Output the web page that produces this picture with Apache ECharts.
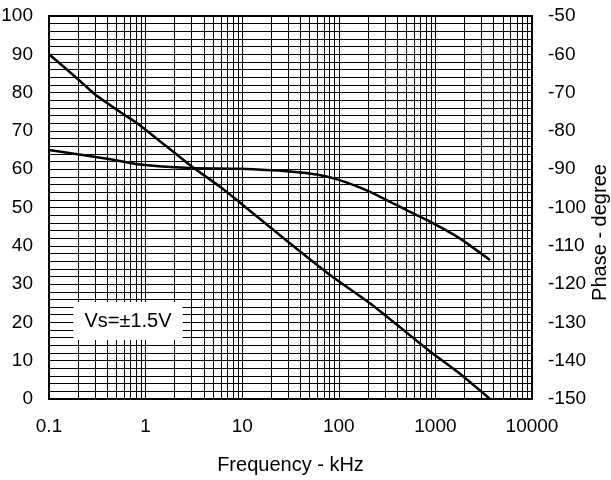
<!DOCTYPE html>
<html>
<head>
<meta charset="utf-8">
<script src="https://cdn.jsdelivr.net/npm/echarts@6/dist/echarts.min.js"></script>
<style>
  html, body { margin: 0; padding: 0; background: #fff; }
  #chart { width: 611px; height: 480px; }
</style>
</head>
<body>
<div id="chart"></div>
<script>
// gain (left axis, dB) vs frequency (kHz)
const gainFreq = [0.1, 0.2, 0.3, 0.54, 0.87, 2.87, 5.9, 10, 30, 81, 210, 500, 880, 1770, 3670];
const gainDb = [90, 83.5, 79.5, 75, 71.5, 61.1, 55.4, 50.8, 41, 32.4, 25, 17.4, 12.4, 6.7, 0];

// phase (right axis, degree) vs frequency (kHz)
const phaseFreq = [0.1, 0.43, 0.87, 2.87, 9.5, 31, 63, 100, 210, 540, 880, 1770, 3670];
const phaseDeg = [-85, -87.4, -88.8, -89.7, -89.9, -90.6, -91.5, -92.8, -95.9, -101.1, -103.7, -108, -113.7];

// decades used for the minor vertical grid (2..9 in each)
const decades = [0.1, 1, 10, 100, 1000];
const minorSteps = [2, 3, 4, 5, 6, 7, 8, 9];

const FONT = 'Liberation Sans, Arial, sans-serif';

const minorLines = [];
decades.forEach(d => minorSteps.forEach(k => minorLines.push({ xAxis: +(d * k).toPrecision(6) })));

const chart = echarts.init(document.getElementById('chart'));

const option = {
  animation: false,
  backgroundColor: '#fff',
  grid: {
    left: 49, right: 79, top: 16, bottom: 81,
    containLabel: false,
    outerBoundsMode: 'none',
    show: true, borderColor: '#000', borderWidth: 2,
    backgroundColor: 'transparent'
  },
  xAxis: {
    type: 'log',
    logBase: 10,
    min: 0.1,
    max: 10000,
    splitNumber: 5,
    name: 'Frequency - kHz',
    nameLocation: 'middle',
    nameGap: 56,
    nameMoveOverlap: false,
    nameTextStyle: { fontFamily: FONT, fontSize: 20, color: '#000' },
    axisLine: { show: false },
    axisTick: { show: false },
    axisLabel: {
      fontFamily: FONT, fontSize: 19, color: '#000', margin: 18,
      formatter: v => String(v)
    },
    splitLine: { show: true, lineStyle: { color: '#000', width: 1 } }
  },
  yAxis: [
    {
      type: 'value',
      min: 0, max: 100, interval: 10,
      axisLine: { show: false },
      axisTick: { show: false },
      axisLabel: { fontFamily: FONT, fontSize: 19, color: '#000', margin: 16 },
      splitLine: { show: true, lineStyle: { color: '#000', width: 1 } },
      minorTick: { show: false, splitNumber: 5 },
      minorSplitLine: { show: true, lineStyle: { color: '#000', width: 1 } }
    },
    {
      type: 'value',
      position: 'right',
      min: -150, max: -50, interval: 10,
      name: 'Phase - degree',
      nameLocation: 'middle',
      nameRotate: 90,
      nameGap: 58,
      nameMoveOverlap: false,
      nameTextStyle: { fontFamily: FONT, fontSize: 20, color: '#000', padding: [0, 50, 0, 0] },
      axisLine: { show: false },
      axisTick: { show: false },
      axisLabel: { fontFamily: FONT, fontSize: 19, color: '#000', margin: 16 },
      splitLine: { show: false }
    }
  ],
  series: [
    {
      name: 'Gain',
      type: 'line',
      yAxisIndex: 0,
      data: gainFreq.map((f, i) => [f, gainDb[i]]),
      showSymbol: false,
      smooth: 0.2,
      lineStyle: { color: '#000', width: 2.5 },
      z: 5,
      markLine: {
        silent: true,
        symbol: 'none',
        label: { show: false },
        lineStyle: { color: '#000', width: 1, type: 'solid' },
        data: minorLines,
        z: 1
      }
    },
    {
      name: 'Phase',
      type: 'line',
      yAxisIndex: 1,
      data: phaseFreq.map((f, i) => [f, phaseDeg[i]]),
      showSymbol: false,
      smooth: 0.2,
      lineStyle: { color: '#000', width: 2.5 },
      z: 5
    }
  ],
  graphic: [
    {
      type: 'text',
      x: 128,
      y: 321,
      z: 100,
      style: {
        text: 'Vs=±1.5V',
        font: '20px ' + FONT,
        fill: '#000',
        align: 'center',
        verticalAlign: 'middle',
        backgroundColor: '#fff',
        padding: [9, 11]
      }
    }
  ]
};

chart.setOption(option);
</script>
</body>
</html>
